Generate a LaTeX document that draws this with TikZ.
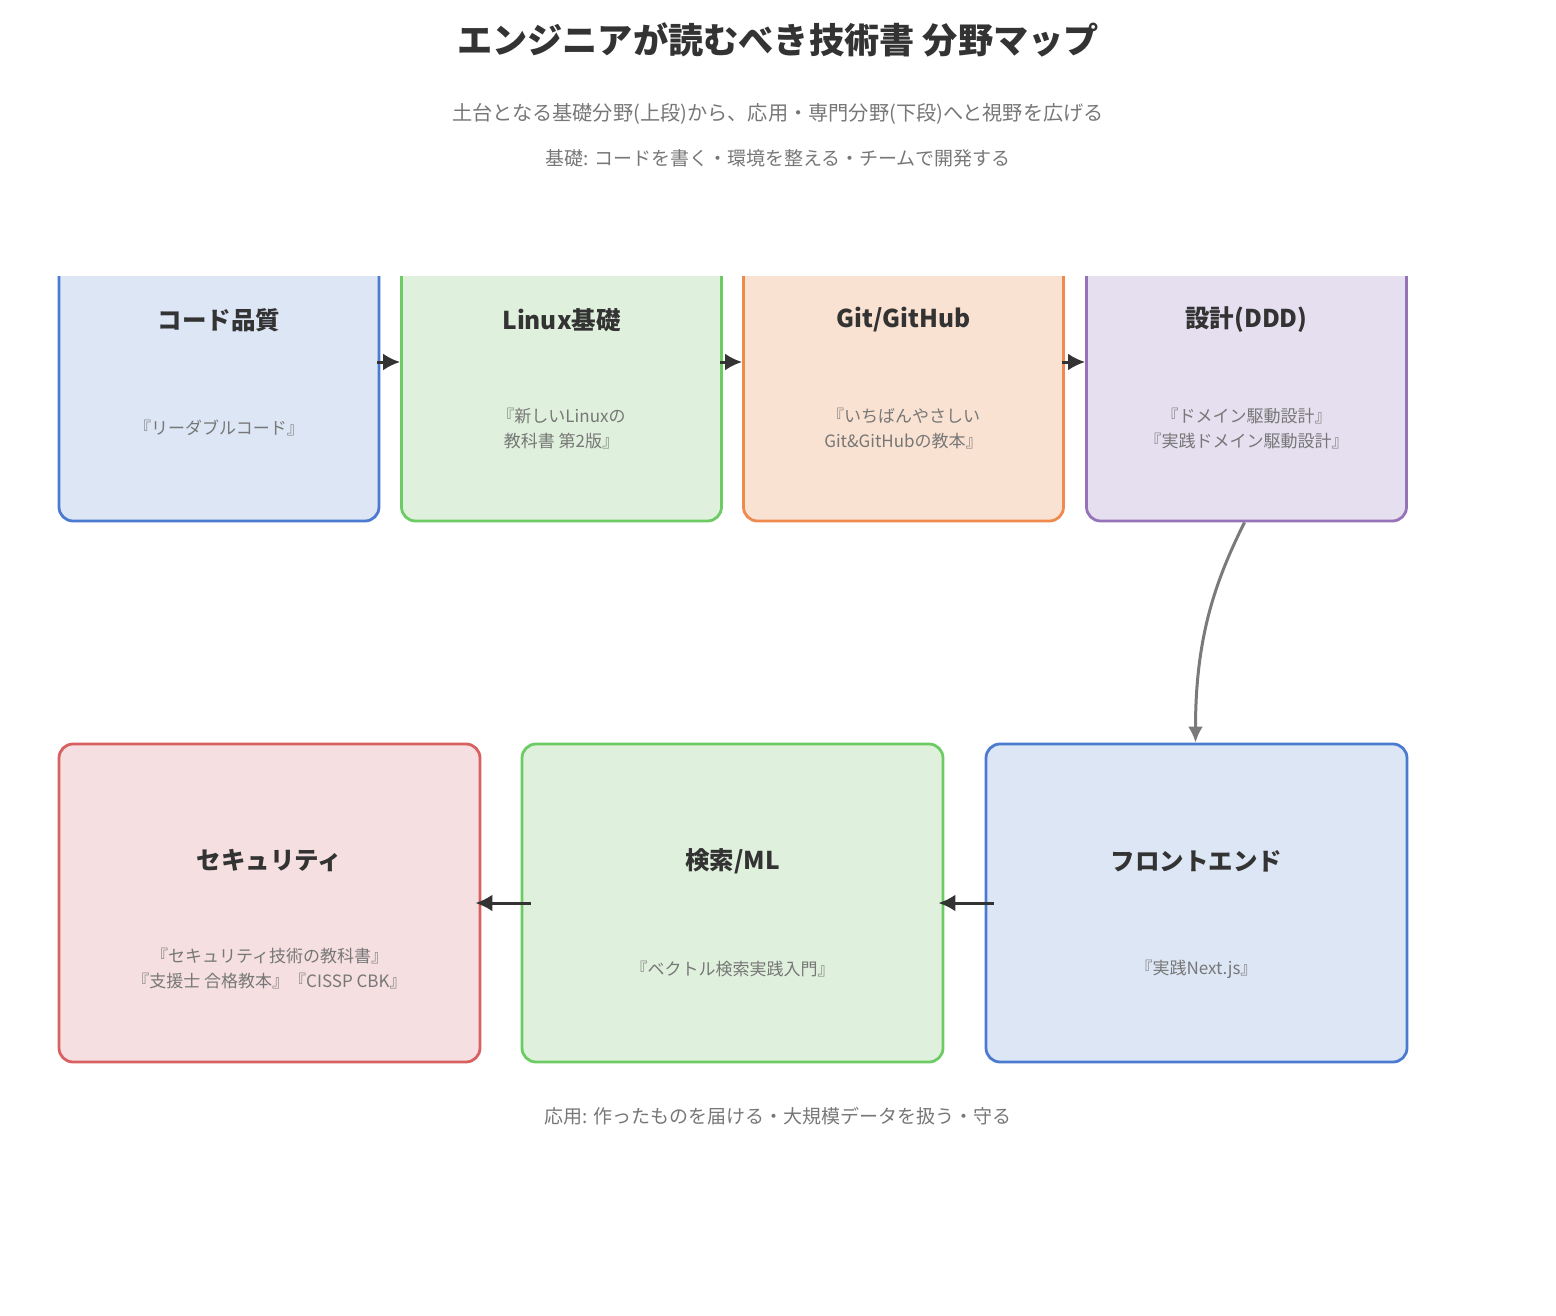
\documentclass[tikz,border=0pt]{standalone}
\usepackage{fontspec}
\setmainfont{Noto Sans CJK JP}
\usetikzlibrary{arrows.meta}
\definecolor{txtdark}{HTML}{333333}
\definecolor{txtgray}{HTML}{777777}
\definecolor{bluebd}{HTML}{4A7BD0}
\definecolor{bluefl}{HTML}{DDE6F5}
\definecolor{greenbd}{HTML}{6CCB63}
\definecolor{greenfl}{HTML}{DFF1DC}
\definecolor{orangebd}{HTML}{F0894D}
\definecolor{orangefl}{HTML}{FAE2D2}
\definecolor{purplebd}{HTML}{9673B8}
\definecolor{purplefl}{HTML}{E6DFF0}
\definecolor{redbd}{HTML}{D96060}
\definecolor{redfl}{HTML}{F5DFE0}
\definecolor{curvecol}{HTML}{7A7A7A}
\begin{document}
\begin{tikzpicture}[x=1pt,y=-1pt,
  boxshape/.style={draw, line width=2.8pt, rounded corners=14pt, minimum height=318pt, inner sep=0pt},
  topbox/.style={boxshape, minimum width=320pt},
  botbox/.style={boxshape, minimum width=421pt},
  boxtitle/.style={text=txtdark, font=\fontsize{24.5}{28}\selectfont\bfseries, inner sep=0pt},
  booktext/.style={text=txtgray, font=\fontsize{17}{25}\selectfont, align=center, inner sep=0pt},
  headtext/.style={text=txtgray, font=\fontsize{19}{22}\selectfont, inner sep=0pt},
  arr/.style={draw=txtdark, line width=3pt, -{Latex[length=17pt,width=17pt]}},
  curvarr/.style={draw=curvecol, line width=3pt, -{Latex[length=16pt,width=15pt]}}
]
\useasboundingbox (0,0) rectangle (1556,1316);

\node[text=txtdark, font=\fontsize{35.2}{40}\selectfont\bfseries, inner sep=0pt] (title) at (778,40) {エンジニアが読むべき技術書 分野マップ};
\node[headtext, font=\fontsize{20.2}{22}\selectfont] (sub1) at (778,114) {土台となる基礎分野(上段)から、応用・専門分野(下段)へと視野を広げる};
\node[headtext] (sub2) at (778,158) {基礎: コードを書く・環境を整える・チームで開発する};

\begin{scope}
\clip (0,277) rectangle (1556,1316);
\node[topbox, draw=bluebd, fill=bluefl] (b1) at (219,362) {};
\node[topbox, draw=greenbd, fill=greenfl] (b2) at (561.5,362) {};
\node[topbox, draw=orangebd, fill=orangefl] (b3) at (903.5,362) {};
\node[topbox, draw=purplebd, fill=purplefl] (b4) at (1246.5,362) {};
\end{scope}

\node[botbox, draw=redbd, fill=redfl] (b5) at (269.5,903) {};
\node[botbox, draw=greenbd, fill=greenfl] (b6) at (732.5,903) {};
\node[botbox, draw=bluebd, fill=bluefl] (b7) at (1196.5,903) {};

\node[boxtitle] (t1) at (219,320) {コード品質};
\node[boxtitle] (t2) at (561.5,320) {Linux基礎};
\node[boxtitle] (t3) at (903.5,320) {Git/GitHub};
\node[boxtitle] (t4) at (1246.5,320) {設計(DDD)};
\node[boxtitle] (t5) at (269.5,861) {セキュリティ};
\node[boxtitle] (t6) at (732.5,861) {検索/ML};
\node[boxtitle] (t7) at (1196.5,861) {フロントエンド};

\node[booktext] (k1) at (219,428) {『リーダブルコード』};
\node[booktext] (k2) at (561.5,428.5) {『新しいLinuxの\\教科書 第2版』};
\node[booktext] (k3) at (903.5,428.5) {『いちばんやさしい\\Git\&GitHubの教本』};
\node[booktext] (k4) at (1246.5,428.5) {『ドメイン駆動設計』\\『実践ドメイン駆動設計』};
\node[booktext] (k5) at (269.5,968.5) {『セキュリティ技術の教科書』\\『支援士 合格教本』『CISSP CBK』};
\node[booktext] (k6) at (732.5,969) {『ベクトル検索実践入門』};
\node[booktext] (k7) at (1196.5,969) {『実践Next.js』};

\node[headtext] (foot) at (778,1116) {応用: 作ったものを届ける・大規模データを扱う・守る};

\draw[arr] ([xshift=-3pt]b1.east) -- (b2.west);
\draw[arr] ([xshift=-3pt]b2.east) -- (b3.west);
\draw[arr] ([xshift=-3pt]b3.east) -- (b4.west);
\draw[curvarr] ([xshift=-2pt]b4.south) .. controls +(-30,60) and +(0,-104) .. ([xshift=-1pt]b7.north);
\draw[arr] ([xshift=9pt]b7.west) -- ([xshift=-6pt]b6.east);
\draw[arr] ([xshift=10pt]b6.west) -- ([xshift=-6pt]b5.east);
\end{tikzpicture}
\end{document}
